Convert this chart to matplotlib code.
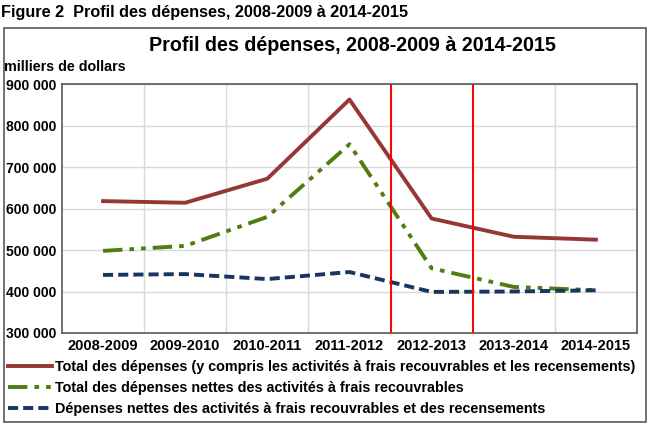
import numpy as np
import matplotlib
matplotlib.use('Agg')
import matplotlib.pyplot as plt
from matplotlib.patches import Rectangle
from matplotlib.ticker import FuncFormatter, FixedLocator

plt.rcParams['font.family'] = ['Liberation Sans', 'DejaVu Sans']

# data (milliers de dollars)
years = ['2008-2009', '2009-2010', '2010-2011', '2011-2012',
         '2012-2013', '2013-2014', '2014-2015']
total = [618000, 614000, 672000, 863000, 576000, 532000, 525000]
total_net = [498000, 510000, 580000, 755000, 456000, 411000, 403000]
net_recens = [440000, 442000, 430000, 447000, 399000, 400000, 403000]
labels = ['Total des dépenses (y compris les activités à frais recouvrables et les recensements)',
          'Total des dépenses nettes des activités à frais recouvrables',
          'Dépenses nettes des activités à frais recouvrables et des recensements']
markers_at = [3.5, 4.5]  # lignes rouges entre exercices

fig = plt.figure(figsize=(6.52, 4.25), dpi=100)
ax = fig.add_axes([0.095, 0.2165, 0.882, 0.5855])

x = np.arange(len(years))
ax.plot(x, total, color='#953735', lw=2.8, label=labels[0])
ax.plot(x, total_net, color='#4f7d12', lw=2.8, dashes=(5, 1.8, 1.2, 1.8, 1.2, 1.8), label=labels[1])
ax.plot(x, net_recens, color='#17375e', lw=2.8, dashes=(2.6, 1.3), label=labels[2])

for m in markers_at:
    ax.axvline(m, color='#ff0000', lw=1.4, zorder=3)

ax.set_xlim(-0.5, len(years) - 0.5)
ax.set_ylim(300000, 900000)
ax.set_xticks(x)
ax.set_xticklabels(years, fontsize=10.5, fontweight='bold')
ax.xaxis.set_minor_locator(FixedLocator(np.arange(0.5, len(years) - 1, 1)))
ax.set_yticks(np.arange(300000, 900001, 100000))
ax.yaxis.set_major_formatter(FuncFormatter(lambda v, p: f'{int(v):,}'.replace(',', ' ')))
for t in ax.get_yticklabels():
    t.set_fontsize(10)
    t.set_fontweight('bold')
ax.tick_params(which='both', length=0, pad=4)
ax.grid(axis='y', which='major', color='#d9d9d9', lw=1)
ax.grid(axis='x', which='minor', color='#d9d9d9', lw=1)
ax.set_axisbelow(True)
for s in ax.spines.values():
    s.set_color('#595959')
    s.set_linewidth(1.2)

fig.text(0.001, 0.971, 'Figure 2  Profil des dépenses, 2008-2009 à 2014-2015',
         fontsize=11.7, fontweight='bold', va='center', ha='left')
fig.text(0.54, 0.893, 'Profil des dépenses, 2008-2009 à 2014-2015',
         fontsize=14.2, fontweight='bold', va='center', ha='center')
fig.text(0.006, 0.843, 'milliers de dollars', fontsize=10.3, fontweight='bold',
         va='center', ha='left')

fig.patches.append(Rectangle((0.006, 0.008), 0.985, 0.925, transform=fig.transFigure,
                             fill=False, edgecolor='#595959', lw=1.2))

fig.legend(loc='upper left', bbox_to_anchor=(0.013, 0.153), frameon=False,
           prop={'size': 10.4, 'weight': 'bold'}, handlelength=3.0, handletextpad=0.2,
           labelspacing=0.5, borderaxespad=0, borderpad=0)

fig.savefig('out.png', dpi=100)
